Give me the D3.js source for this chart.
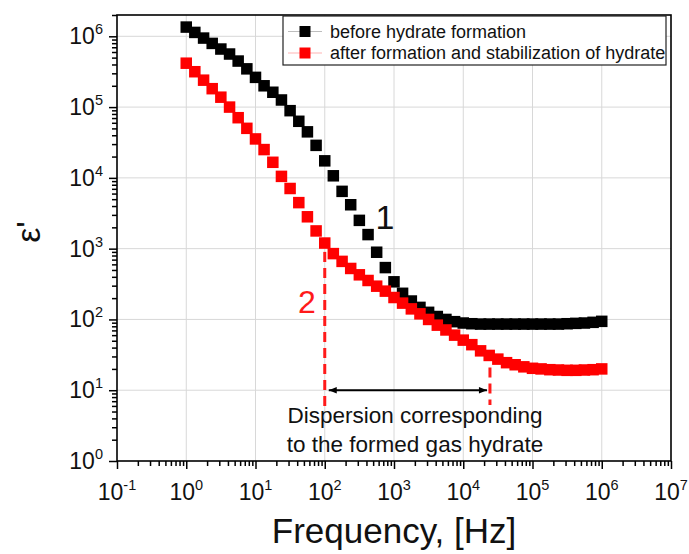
<!DOCTYPE html>
<html>
<head>
<meta charset="utf-8">
<script src="https://cdn.jsdelivr.net/npm/d3@7/dist/d3.min.js"></script>
<style>
  html, body { margin: 0; padding: 0; background: #fff; }
  svg { display: block; font-family: "Liberation Sans", Arial, sans-serif; }
</style>
</head>
<body>
<svg id="chart" width="689" height="554"></svg>
<script>
// ---------- data ----------
const frequency = [
  1, 1.33, 1.78, 2.37, 3.16, 4.22, 5.62, 7.50,
  10, 13.3, 17.8, 23.7, 31.6, 42.2, 56.2, 75.0,
  100, 133, 178, 237, 316, 422, 562, 750,
  1000, 1330, 1780, 2370, 3160, 4220, 5620, 7500,
  1e4, 13300, 17800, 23700, 31600, 42200, 56200, 75000,
  1e5, 133000, 178000, 237000, 316000, 422000, 562000, 750000,
  1e6
];
const beforeHydrate = [
  1.35e6, 1.135e6, 9.44e5, 7.94e5, 6.61e5, 5.62e5, 4.47e5, 3.47e5,
  2.63e5, 2.0e5, 1.62e5, 1.26e5, 8.9e4, 6.3e4, 4.47e4, 2.88e4,
  1.74e4, 1.07e4, 6450, 4170, 2510, 1580, 890, 540,
  340, 234, 182, 148, 126, 110, 100, 93,
  89, 87, 86, 86, 86, 86, 86, 86,
  86, 86, 86, 86, 87, 88, 89, 91,
  94
];
const afterHydrate = [
  4.17e5, 3.16e5, 2.4e5, 1.82e5, 1.38e5, 1.0e5, 7.08e4, 5.01e4,
  3.55e4, 2.51e4, 1.66e4, 1.05e4, 7080, 4470, 2820, 1780,
  1200, 851, 661, 525, 427, 355, 295, 251,
  204, 170, 141, 120, 100, 83, 71, 60,
  51, 44, 36, 31, 27.5, 24.5, 22.9, 21.4,
  20.4, 20, 19.5, 19.3, 19.1, 19.1, 19.3, 19.5,
  20
];
const seriesNames = ["before hydrate formation", "after formation and stabilization of hydrate"];
const xTickExponents = [-1, 0, 1, 2, 3, 4, 5, 6, 7];
const yTickExponents = [0, 1, 2, 3, 4, 5, 6];
const dispersionRange = [100, 2.43e4];       // frequencies of the dashed markers
const dispersionTop = [900, 21];             // where the dashed markers start (ε')
const dispersionBottom = [5.3, 6.2];         // where the dashed markers end (ε')
const arrowLevel = 10;                        // ε' level of the double arrow
const dispersionText = ["Dispersion corresponding", "to the formed gas hydrate"];

// ---------- layout ----------
const W = 689, H = 554;
const margin = { left: 117, top: 15, right: 18, bottom: 93 };
const x0 = margin.left, x1 = W - margin.right, y0 = H - margin.bottom, y1 = margin.top;

const svg = d3.select("#chart");
const x = d3.scaleLog().domain([0.1, 1e7]).range([x0, x1]);
const y = d3.scaleLog().domain([1, 2e6]).range([y0, y1]);

const xMajor = xTickExponents.map(e => Math.pow(10, e));
const yMajor = yTickExponents.map(e => Math.pow(10, e));
const xMinor = [];
xTickExponents.slice(0, -1).forEach(e => { for (let k = 2; k <= 9; k++) xMinor.push(k * Math.pow(10, e)); });
const yMinor = [];
yTickExponents.forEach(e => { for (let k = 2; k <= 9; k++) { const v = k * Math.pow(10, e); if (v <= 2e6) yMinor.push(v); } });

// grid
const grid = svg.append("g").attr("stroke", "#d8d8d8").attr("stroke-width", 1);
grid.selectAll("line.gx").data(xMajor.slice(1, -1)).join("line")
  .attr("x1", d => x(d)).attr("x2", d => x(d)).attr("y1", y0).attr("y2", y1);
grid.selectAll("line.gy").data(yMajor.slice(1)).join("line")
  .attr("x1", x0).attr("x2", x1).attr("y1", d => y(d)).attr("y2", d => y(d));

// axes (major + minor ticks, outward)
function styleAxis(g) {
  g.select(".domain").remove();
  g.selectAll(".tick line").attr("stroke", "#000").attr("stroke-width", 1.5);
  g.selectAll(".tick text").remove();
}
svg.append("g").attr("transform", `translate(0,${y0})`)
  .call(d3.axisBottom(x).tickValues(xMajor).tickSize(8).tickFormat(() => "")).call(styleAxis);
svg.append("g").attr("transform", `translate(0,${y0})`)
  .call(d3.axisBottom(x).tickValues(xMinor).tickSize(5).tickFormat(() => "")).call(styleAxis);
svg.append("g").attr("transform", `translate(${x0},0)`)
  .call(d3.axisLeft(y).tickValues(yMajor).tickSize(8).tickFormat(() => "")).call(styleAxis);
svg.append("g").attr("transform", `translate(${x0},0)`)
  .call(d3.axisLeft(y).tickValues(yMinor).tickSize(5).tickFormat(() => "")).call(styleAxis);

// tick labels with superscripts
function powLabel(sel, exp) {
  sel.append("tspan").text("10");
  sel.append("tspan").attr("font-size", 14.5).attr("dy", -10).text(exp);
}
xTickExponents.forEach(e => {
  const t = svg.append("text").attr("x", x(Math.pow(10, e))).attr("y", 500)
    .attr("text-anchor", "middle").attr("font-size", 23).attr("fill", "#111");
  powLabel(t, e < 0 ? "-" + Math.abs(e) : String(e));
});
yTickExponents.forEach(e => {
  const t = svg.append("text").attr("x", 103).attr("y", y(Math.pow(10, e)) + 8)
    .attr("text-anchor", "end").attr("font-size", 23).attr("fill", "#111");
  powLabel(t, String(e));
});

// frame
svg.append("rect").attr("x", x0).attr("y", y1).attr("width", x1 - x0).attr("height", y0 - y1)
  .attr("fill", "none").attr("stroke", "#000").attr("stroke-width", 1.6);

// dashed markers & arrow
const ann = svg.append("g");
dispersionRange.forEach((f, i) => {
  ann.append("line").attr("x1", x(f)).attr("x2", x(f))
    .attr("y1", y(dispersionTop[i])).attr("y2", y(dispersionBottom[i]))
    .attr("stroke", "#ff1a1a").attr("stroke-width", 3).attr("stroke-dasharray", "10,6");
});
const defs = svg.append("defs");
defs.append("marker").attr("id", "ah").attr("viewBox", "0 0 10 10").attr("refX", 10).attr("refY", 5)
  .attr("markerWidth", 12).attr("markerHeight", 8).attr("orient", "auto-start-reverse")
  .attr("markerUnits", "userSpaceOnUse")
  .append("path").attr("d", "M0,1 L10,5 L0,9 Z").attr("fill", "#000");
ann.append("line")
  .attr("x1", x(dispersionRange[0]) + 4).attr("x2", x(dispersionRange[1]) - 3)
  .attr("y1", y(arrowLevel)).attr("y2", y(arrowLevel))
  .attr("stroke", "#000").attr("stroke-width", 2)
  .attr("marker-start", "url(#ah)").attr("marker-end", "url(#ah)");
dispersionText.forEach((s, i) => {
  ann.append("text").attr("x", 415).attr("y", 423 + i * 29).attr("text-anchor", "middle")
    .attr("font-size", 22.5).attr("fill", "#111").text(s);
});

// data markers
const size = 11.5;
const series = [
  { name: seriesNames[0], values: beforeHydrate, color: "#000000" },
  { name: seriesNames[1], values: afterHydrate, color: "#ff0000" }
];
series.forEach(s => {
  svg.append("g").selectAll("rect").data(frequency).join("rect")
    .attr("x", (d) => x(d) - size / 2)
    .attr("y", (d, i) => y(s.values[i]) - size / 2)
    .attr("width", size).attr("height", size).attr("fill", s.color);
});

// curve labels
svg.append("text").attr("x", 385).attr("y", 229).attr("text-anchor", "middle")
  .attr("font-size", 34).attr("fill", "#111").text("1");
svg.append("text").attr("x", 307).attr("y", 313).attr("text-anchor", "middle")
  .attr("font-size", 32).attr("fill", "#ff1a1a").text("2");

// legend
const lg = svg.append("g");
lg.append("rect").attr("x", 283).attr("y", 16).attr("width", 383).attr("height", 49)
  .attr("fill", "#fff").attr("stroke", "#222").attr("stroke-width", 1.2);
const legLineColor = ["#bdbdbd", "#ffb3b3"];
series.forEach((s, i) => {
  const cy = 31.5 + i * 21.5;
  lg.append("line").attr("x1", 288).attr("x2", 322).attr("y1", cy).attr("y2", cy)
    .attr("stroke", legLineColor[i]).attr("stroke-width", 1);
  lg.append("rect").attr("x", 305 - 5.5).attr("y", cy - 5.5).attr("width", 11).attr("height", 11)
    .attr("fill", s.color);
  lg.append("text").attr("x", 330).attr("y", cy + 6).attr("font-size", 18).attr("fill", "#111")
    .text(s.name);
});

// axis titles
svg.append("text").attr("x", 394).attr("y", 543).attr("text-anchor", "middle")
  .attr("font-size", 35).attr("fill", "#111").text("Frequency, [Hz]");
svg.append("text").attr("transform", "translate(40,232) rotate(-90)").attr("text-anchor", "middle")
  .attr("font-size", 34).attr("fill", "#111").text("ε'");
</script>
</body>
</html>
